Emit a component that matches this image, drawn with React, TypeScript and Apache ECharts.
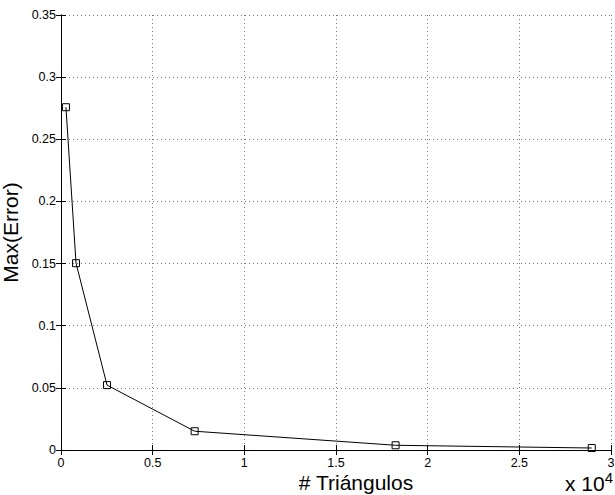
import React, { useEffect, useRef } from "react";
import * as echarts from "echarts";

const triangles: number[] = [0.027, 0.082, 0.251, 0.729, 1.825, 2.895]; // x 10^4
const maxError: number[] = [0.2758, 0.1503, 0.0522, 0.0151, 0.0038, 0.0016];
const xTicks: number[] = [0, 0.5, 1, 1.5, 2, 2.5, 3];
const yTicks: number[] = [0, 0.05, 0.1, 0.15, 0.2, 0.25, 0.3, 0.35];
const xLabel = "# Triángulos";
const yLabel = "Max(Error)";

const FONT = "'Liberation Sans', Arial, Helvetica, sans-serif";

export default function App() {
  const ref = useRef<HTMLDivElement>(null);
  useEffect(() => {
    if (!ref.current) return;
    const chart = echarts.init(ref.current, undefined, { renderer: "svg" });
    const grid = { left: 61, right: 4, top: 15, bottom: 45, containLabel: false, outerBoundsMode: "none" };
    const commonAxis = {
      axisLine: { show: true, lineStyle: { color: "#000", width: 1 } },
      axisTick: { show: true, inside: true, length: 5, lineStyle: { color: "#000" } },
    };
    chart.setOption({
      animation: false,
      backgroundColor: "#fff",
      textStyle: { fontFamily: FONT },
      grid,
      xAxis: [
        {
          type: "value",
          min: xTicks[0],
          max: xTicks[xTicks.length - 1],
          interval: 0.5,
          position: "bottom",
          ...commonAxis,
          axisLabel: { color: "#000", fontSize: 12.5, margin: 6, fontFamily: FONT },
          splitLine: {
            show: true,
            lineStyle: { color: "#777", type: [1, 3], width: 1 },
          },
        },
        {
          type: "value",
          min: xTicks[0],
          max: xTicks[xTicks.length - 1],
          interval: 0.5,
          position: "top",
          ...commonAxis,
          axisLabel: { show: false },
          splitLine: { show: false },
        },
      ],
      yAxis: [
        {
          type: "value",
          min: yTicks[0],
          max: yTicks[yTicks.length - 1],
          interval: 0.05,
          position: "left",
          ...commonAxis,
          axisLabel: { color: "#000", fontSize: 12.5, margin: 5, fontFamily: FONT },
          splitLine: {
            show: true,
            lineStyle: { color: "#777", type: [1, 3], width: 1 },
          },
          name: yLabel,
          nameLocation: "middle",
          nameGap: 28,
          nameRotate: 90,
          nameTextStyle: { color: "#000", fontSize: 21, fontFamily: FONT },
        },
        {
          type: "value",
          min: yTicks[0],
          max: yTicks[yTicks.length - 1],
          interval: 0.05,
          position: "right",
          ...commonAxis,
          axisLabel: { show: false },
          splitLine: { show: false },
        },
      ],
      series: [
        {
          type: "line",
          xAxisIndex: 0,
          yAxisIndex: 0,
          data: triangles.map((x, i) => [x, maxError[i]]),
          symbol: "rect",
          symbolSize: 7,
          showAllSymbol: true,
          lineStyle: { color: "#000", width: 1 },
          itemStyle: { color: "transparent", borderColor: "#000", borderWidth: 1 },
        },
      ],
      graphic: [
        {
          type: "text",
          x: 356,
          y: 482,
          style: {
            text: xLabel,
            fill: "#000",
            font: `21px ${FONT}`,
            align: "center",
            verticalAlign: "middle",
          },
        },
        {
          type: "text",
          right: 2,
          bottom: 1,
          style: {
            text: "x 10{sup|4}",
            fill: "#000",
            font: `21px ${FONT}`,
            rich: {
              sup: { fontSize: 15, verticalAlign: "top", padding: [0, 0, 12, 0], fontFamily: FONT },
            },
          },
        },
      ],
    });
    return () => chart.dispose();
  }, []);
  return (
    <div
      ref={ref}
      style={{ position: "fixed", left: 0, top: 0, width: 615, height: 495 }}
    />
  );
}
